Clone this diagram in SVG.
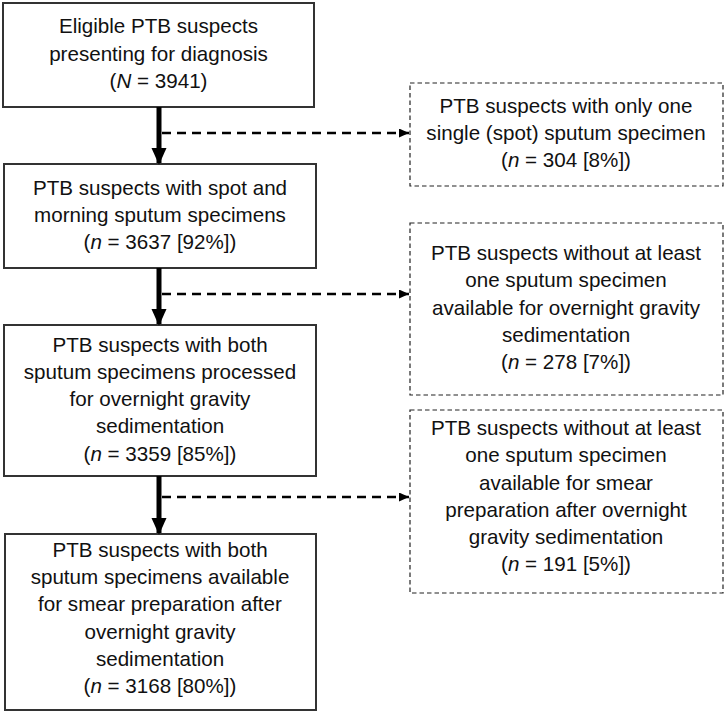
<svg xmlns="http://www.w3.org/2000/svg" width="725" height="713" viewBox="0 0 725 713">
<defs>
<marker id="big" markerWidth="17" markerHeight="19" refX="17" refY="8.5" orient="auto" markerUnits="userSpaceOnUse" viewBox="0 0 19 17">
<path d="M0,0 L19,8.5 L0,17 Z" fill="#000"/>
</marker>
<marker id="small" markerWidth="10" markerHeight="9" refX="10" refY="4.5" orient="auto" markerUnits="userSpaceOnUse" viewBox="0 0 10 9">
<path d="M0,0 L10,4.5 L0,9 Z" fill="#000"/>
</marker>
</defs>
<style>
.box{fill:#fff;stroke:#333;stroke-width:2}
.dbox{fill:#fff;stroke:#222;stroke-width:1.2;stroke-dasharray:4.5 3}
text{font-family:"Liberation Sans",Arial,sans-serif;font-size:20.6px;fill:#111;text-anchor:middle}
.main{stroke:#000;stroke-width:5;fill:none}
.side{stroke:#000;stroke-width:2.5;stroke-dasharray:9 6;fill:none}
</style>
<rect width="725" height="713" fill="#fff"/>
<g id="n1">
<rect class="box" x="3" y="3" width="311" height="104"/>
<text x="158.5" y="33">Eligible PTB suspects</text>
<text x="158.5" y="61">presenting for diagnosis</text>
<text x="158.5" y="88">(<tspan font-style="italic">N</tspan> = 3941)</text>
</g>
<g id="n2">
<rect class="box" x="4" y="164" width="312" height="104"/>
<text x="160" y="195">PTB suspects with spot and</text>
<text x="160" y="222">morning sputum specimens</text>
<text x="160" y="249">(<tspan font-style="italic">n</tspan> = 3637 [92%])</text>
</g>
<g id="n3">
<rect class="box" x="4" y="325" width="312" height="151"/>
<text x="160" y="352">PTB suspects with both</text>
<text x="160" y="379">sputum specimens processed</text>
<text x="160" y="406">for overnight gravity</text>
<text x="160" y="433">sedimentation</text>
<text x="160" y="461">(<tspan font-style="italic">n</tspan> = 3359 [85%])</text>
</g>
<g id="n4">
<rect class="box" x="5" y="534" width="311" height="176"/>
<text x="160" y="557">PTB suspects with both</text>
<text x="160" y="584">sputum specimens available</text>
<text x="160" y="611">for smear preparation after</text>
<text x="160" y="639">overnight gravity</text>
<text x="160" y="666">sedimentation</text>
<text x="160" y="693">(<tspan font-style="italic">n</tspan> = 3168 [80%])</text>
</g>
<g id="e1">
<rect class="dbox" x="410" y="83" width="313" height="103"/>
<text x="566" y="113">PTB suspects with only one</text>
<text x="566" y="140">single (spot) sputum specimen</text>
<text x="566" y="167">(<tspan font-style="italic">n</tspan> = 304 [8%])</text>
</g>
<g id="e2">
<rect class="dbox" x="410" y="223" width="313" height="172"/>
<text x="566" y="260">PTB suspects without at least</text>
<text x="566" y="287">one sputum specimen</text>
<text x="566" y="315">available for overnight gravity</text>
<text x="566" y="342">sedimentation</text>
<text x="566" y="369">(<tspan font-style="italic">n</tspan> = 278 [7%])</text>
</g>
<g id="e3">
<rect class="dbox" x="410" y="410" width="313" height="183"/>
<text x="566" y="435">PTB suspects without at least</text>
<text x="566" y="462">one sputum specimen</text>
<text x="566" y="490">available for smear</text>
<text x="566" y="517">preparation after overnight</text>
<text x="566" y="544">gravity sedimentation</text>
<text x="566" y="571">(<tspan font-style="italic">n</tspan> = 191 [5%])</text>
</g>
<g id="connectors">
<line class="main" x1="159" y1="107" x2="159" y2="163" marker-end="url(#big)"/>
<line class="main" x1="159" y1="268" x2="159" y2="324" marker-end="url(#big)"/>
<line class="main" x1="159" y1="476" x2="159" y2="533" marker-end="url(#big)"/>
<line class="side" x1="162" y1="133" x2="409" y2="133" marker-end="url(#small)"/>
<line class="side" x1="162" y1="294" x2="409" y2="294" marker-end="url(#small)"/>
<line class="side" x1="162" y1="497" x2="409" y2="497" marker-end="url(#small)"/>
</g>
</svg>
